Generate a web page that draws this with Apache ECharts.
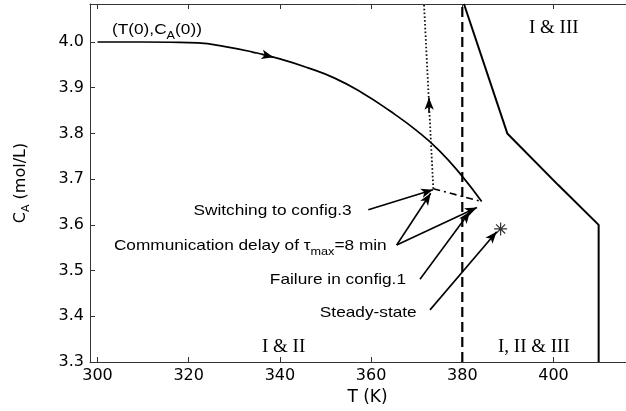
<!DOCTYPE html>
<html>
<head>
<meta charset="utf-8">
<script src="https://cdn.jsdelivr.net/npm/echarts@6/dist/echarts.min.js"></script>
<style>html,body{margin:0;padding:0;background:#fff}#c{width:626px;height:411px}</style>
</head>
<body>
<div id="c"></div>
<script>
// ---- data ----
const xTicks = [300, 320, 340, 360, 380, 400];
const yTicks = [3.3, 3.4, 3.5, 3.6, 3.7, 3.8, 3.9, 4.0];

// main trajectory from (T(0), CA(0))
const trajT  = [300, 310, 316, 322, 328, 334, 340, 346, 352, 358, 364, 370, 375, 380, 384.25];
const trajCA = [4.0, 4.0, 3.9995, 3.998, 3.990, 3.978, 3.963, 3.944, 3.921, 3.889, 3.850, 3.806, 3.762, 3.706, 3.651];

// dotted trajectory (after switching to config.3)
const dotT  = [373.64, 371.6];
const dotCA = [3.679, 4.083];

// dash-dot segment (communication delay)
const ddT  = [373.64, 384.25];
const ddCA = [3.679, 3.651];

// vertical dashed line
const vdT  = [380, 380];
const vdCA = [3.3, 4.083];

// stability-region boundary
const bT  = [380.37, 389.87, 401.05, 409.9, 409.9];
const bCA = [4.083, 3.800, 3.687, 3.600, 3.3];

// steady state
const ssT = [388.4];
const ssCA = [3.591];

// annotation arrows: [fromT, fromCA, toT, toCA]
const arrowSwitch  = [359.39, 3.633, 373.57, 3.677];
const arrowCommA   = [365.61, 3.556, 373.07, 3.669];
const arrowCommB   = [365.61, 3.556, 383.22, 3.638];
const arrowFailure = [370.72, 3.481, 381.69, 3.629];
const arrowSteady  = [372.92, 3.414, 387.54, 3.585];
// direction arrows on trajectories
const arrowTraj = [336.0, 3.9730, 338.6, 3.9665];
const arrowDot  = [372.75, 3.845, 372.69, 3.878];

const zip = (a, b) => a.map((v, i) => [v, b[i]]);

const chart = echarts.init(document.getElementById('c'), null, {renderer: 'canvas'});

const grid = {left: 90, top: 4, width: 555, height: 358};
const pxPerK = 4.56;
const xMin = 300 - 7.5 / pxPerK;
const xMax = xMin + grid.width / pxPerK;
const yMin = 3.3;
const yMax = 3.3 + grid.height / (320 / 0.7);

const axisColor = '#333';
const arrowLine = (a) => [{coord: [a[0], a[1]]}, {coord: [a[2], a[3]]}];

const richStyles = {
  n: {fontFamily: 'Liberation Sans', fontSize: 15, lineHeight: 22, verticalAlign: 'middle'},
  sub: {fontFamily: 'Liberation Sans', fontSize: 11, lineHeight: 11, verticalAlign: 'bottom'}
};

const sansTxt = (text, x, y, align) => ({
  type: 'text', x: x, y: y, scaleX: 1.15, silent: true,
  style: {text: text, fontFamily: 'Liberation Sans', fontSize: 15, fill: '#000',
          align: align || 'right', verticalAlign: 'middle', rich: richStyles}
});

const serifTxt = (text, x, y) => ({
  type: 'text', x: x, y: y, silent: true,
  style: {text: text, fontFamily: 'Liberation Serif', fontSize: 19, fill: '#000',
          align: 'left', verticalAlign: 'middle'}
});

const option = {
  animation: false,
  backgroundColor: '#fff',
  grid: Object.assign({outerBoundsMode: 'none', containLabel: false}, grid),
  xAxis: [{
    type: 'value', min: xMin, max: xMax, position: 'bottom',
    name: 'T (K)', nameLocation: 'middle', nameGap: 25,
    nameTextStyle: {fontFamily: 'DejaVu Sans', fontSize: 17, color: '#000'},
    axisLine: {show: true, onZero: false, lineStyle: {color: axisColor, width: 1}},
    axisTick: {show: true, inside: true, length: 5, customValues: xTicks, lineStyle: {color: axisColor}},
    axisLabel: {show: true, customValues: xTicks, margin: 6, fontFamily: 'DejaVu Sans', fontSize: 16, color: '#000'},
    splitLine: {show: false}
  }, {
    type: 'value', min: xMin, max: xMax, position: 'top',
    axisLine: {show: true, onZero: false, lineStyle: {color: axisColor, width: 1}},
    axisTick: {show: true, inside: true, length: 5, customValues: xTicks, lineStyle: {color: axisColor}},
    axisLabel: {show: false},
    splitLine: {show: false}
  }],
  yAxis: [{
    type: 'value', min: yMin, max: yMax,
    name: '{n|C}{sub|A}{n| (mol/L)}', nameLocation: 'middle', nameGap: 58, nameRotate: 90,
    nameTextStyle: {color: '#000', rich: {
      n: {fontFamily: 'DejaVu Sans', fontSize: 16, lineHeight: 22, verticalAlign: 'middle', color: '#000'},
      sub: {fontFamily: 'DejaVu Sans', fontSize: 11, lineHeight: 11, verticalAlign: 'bottom', color: '#000'}}},
    axisLine: {show: true, onZero: false, lineStyle: {color: axisColor, width: 1}},
    axisTick: {show: true, inside: true, length: 5, customValues: yTicks, lineStyle: {color: axisColor}},
    axisLabel: {show: true, customValues: yTicks, margin: 6, fontFamily: 'DejaVu Sans', fontSize: 16, color: '#000',
                formatter: v => v.toFixed(1)},
    splitLine: {show: false}
  }],
  series: [
    {type: 'line', name: 'trajectory', data: zip(trajT, trajCA), smooth: 0.5, symbol: 'none',
     lineStyle: {color: '#000', width: 1.7}, z: 3},
    {type: 'line', name: 'config3', data: zip(dotT, dotCA), symbol: 'none',
     lineStyle: {color: '#111', width: 1.8, type: [1.6, 2.2]}, z: 3},
    {type: 'line', name: 'delay', data: zip(ddT, ddCA), symbol: 'none',
     lineStyle: {color: '#000', width: 1.6, type: [7, 4, 2, 4]}, z: 3},
    {type: 'line', name: 'T=380', data: zip(vdT, vdCA), symbol: 'none',
     lineStyle: {color: '#000', width: 2.2, type: [10, 5]}, z: 2},
    {type: 'line', name: 'boundary', data: zip(bT, bCA), symbol: 'none',
     lineStyle: {color: '#000', width: 2}, z: 3},
    {type: 'scatter', name: 'steady', data: zip(ssT, ssCA),
     symbol: 'path://M5 0L5 10M0 5L10 5M1.5 1.5L8.5 8.5M1.5 8.5L8.5 1.5', symbolSize: 13,
     itemStyle: {color: 'transparent', borderColor: '#000', borderWidth: 1.2}, z: 4},
    {type: 'line', name: 'arrows', data: [], symbol: 'none', silent: true,
     markLine: {
       silent: true, animation: false, symbol: ['none', 'arrow'], symbolSize: [7, 12],
       label: {show: false}, emphasis: {disabled: true},
       lineStyle: {color: '#000', width: 1.6, type: 'solid'},
       data: [arrowLine(arrowSwitch), arrowLine(arrowCommA), arrowLine(arrowCommB),
              arrowLine(arrowFailure), arrowLine(arrowSteady),
              arrowLine(arrowTraj), arrowLine(arrowDot)]
     }, z: 5}
  ],
  graphic: [
    sansTxt('{n|(T(0),C}{sub|A}{n|(0))}', 112, 30, 'left'),
    sansTxt('Switching to config.3', 351.7, 211),
    sansTxt('{n|Communication delay of τ}{sub|max}{n|=8 min}', 386.7, 246),
    sansTxt('Failure in config.1', 406, 279.5),
    sansTxt('Steady-state', 416.7, 312.5),
    serifTxt('I & III', 529, 28),
    serifTxt('I & II', 262, 347),
    serifTxt('I, II & III', 498, 347)
  ]
};
chart.setOption(option);
</script>
</body>
</html>
